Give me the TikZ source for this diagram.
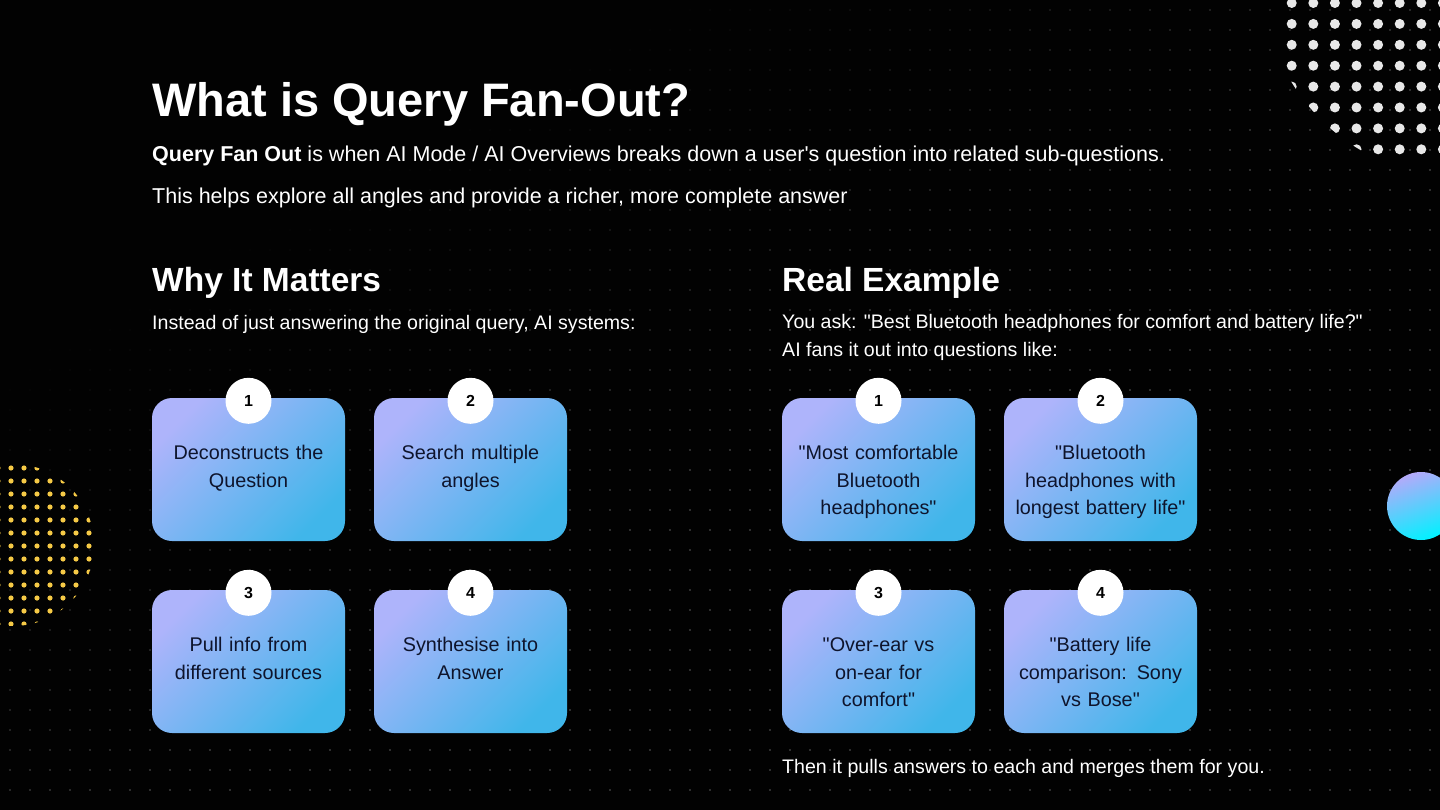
\documentclass[tikz,border=0pt]{standalone}
\usepackage{fontspec}
\setmainfont{Liberation Sans}[Ligatures=TeXOff]
\usetikzlibrary{positioning}
\definecolor{pageBg}{RGB}{2,2,2}
\definecolor{gridDot}{RGB}{62,62,62}
\definecolor{cardTop}{RGB}{174,180,251}
\definecolor{cardBot}{RGB}{64,182,234}
\definecolor{cardInk}{RGB}{14,20,44}
\definecolor{dotGold}{RGB}{246,202,70}
\definecolor{dotWhite}{RGB}{232,232,232}
\definecolor{orbTop}{RGB}{180,170,250}
\definecolor{orbBot}{RGB}{0,242,255}

\tikzset{
  card/.style={rounded corners=20pt, minimum width=193pt, minimum height=143pt,
    top color=cardTop, bottom color=cardBot, shading angle=45, inner sep=0pt},
  badge/.style={circle, fill=white, minimum size=46pt, inner sep=0pt,
    font=\bfseries\fontsize{16}{16}\selectfont, text=black},
  cardtext/.style={anchor=base, align=center, text width=186pt, inner sep=0pt,
    text=cardInk, font=\fontsize{19.8}{27.5}\selectfont},
  heading/.style={anchor=base west, text=white, inner sep=0pt,
    font=\bfseries\fontsize{33.5}{33.5}\selectfont},
  body/.style={anchor=base west, text=white, inner sep=0pt,
    font=\fontsize{19.6}{28}\selectfont},
  lead/.style={body, font=\fontsize{21.5}{28}\selectfont},
}

\begin{document}
\begin{tikzpicture}[x=1pt, y=-1pt]
  % page
  \fill[pageBg] (0,0) rectangle (1440,810);
  \useasboundingbox (0,0) rectangle (1440,810);

  % faint dot grid, fading out to the top left
  \foreach \gx in {10,30,...,1430} {
    \foreach \gy in {10,30,...,800} {
      \pgfmathsetmacro\op{min(1,max(0,(\gx/1440+\gy/810-0.45)*1.6))}
      \fill[gridDot, opacity=\op] (\gx,\gy) circle (1.1);
    }
  }

  % white dots, top right
  \begin{scope}
    \clip (1460,-20) circle (197);
    \foreach \i in {0,...,7} {
      \foreach \j in {0,...,7} {
        \fill[dotWhite] (1291.7+21.6*\i, 3+20.9*\j) circle (5);
      }
    }
  \end{scope}

  % gold dots, left
  \begin{scope}
    \clip (13,545) circle (81);
    \foreach \i in {-1,...,7} {
      \foreach \j in {0,...,12} {
        \fill[dotGold] (11+13*\i, 468+13*\j) circle (2.6);
      }
    }
  \end{scope}

  % orb, right
  \shade[top color=orbTop, bottom color=orbBot, shading angle=20] (1421,506) circle (34);

  % texts
  \node[anchor=base west, inner sep=0pt, text=white, font=\bfseries\fontsize{47}{47}\selectfont]
    (title) at (152,117) {What is Query Fan-Out?};
  \node[lead] (intro) at (152,162) {\textbf{Query Fan Out} is when AI Mode / AI Overviews breaks down a user's question into related sub-questions.};
  \node[lead] (introb) at (152,204) {This helps explore all angles and provide a richer, more complete answer};

  \node[heading] (whyhead) at (152,291) {Why It Matters};
  \node[body] (whybody) at (152,329) {Instead of just answering the original query, AI systems:};

  \node[heading] (realhead) at (782,291) {Real Example};
  \node[body] (realbody) at (782,328) {You ask: "Best Bluetooth headphones for comfort and battery life?"};
  \node[body] (realbodyb) at (782,356) {AI fans it out into questions like:};
  \node[body] (outro) at (782,773) {Then it pulls answers to each and merges them for you.};

  % cards
  \foreach \n/\x/\y/\num/\txt in {
      why1/248.5/469.5/1/{Deconstructs the\\Question},
      why2/470.5/469.5/2/{Search multiple\\angles},
      why3/248.5/661.5/3/{Pull info from\\different sources},
      why4/470.5/661.5/4/{Synthesise into\\Answer},
      ex1/878.5/469.5/1/{"Most comfortable\\Bluetooth\\headphones"},
      ex2/1100.5/469.5/2/{"Bluetooth\\headphones with\\longest battery life"},
      ex3/878.5/661.5/3/{"Over-ear vs\\on-ear for\\comfort"},
      ex4/1100.5/661.5/4/{"Battery life\\comparison: Sony\\vs Bose"}} {
    \node[card] (\n) at (\x,\y) {};
    \node[badge] (\n-badge) at ([yshift=-3pt]\n.north) {\num};
    \node[cardtext] (\n-text) at ([yshift=-62pt]\n.north) {\txt};
  }
\end{tikzpicture}
\end{document}
